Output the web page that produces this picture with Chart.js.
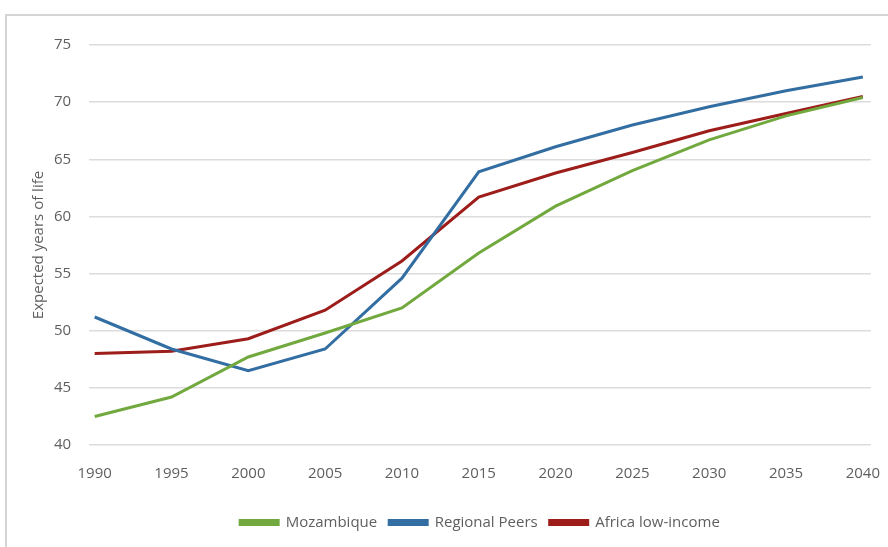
<!DOCTYPE html>
<html lang="en">
<head>
    <meta charset="UTF-8">
    <title>Expected years of life</title>
    <script src="https://cdn.jsdelivr.net/npm/chart.js"></script>
    <style>
        body {
            margin: 0;
            padding: 0;
            background: #fff;
            overflow: hidden;
        }
        .frame {
            position: absolute;
            left: 5px;
            top: 14px;
            width: 900px;
            height: 560px;
            border: 2px solid #d4d4d4;
        }
        .wrap {
            position: absolute;
            left: 0;
            top: 0;
            width: 900px;
            height: 547px;
        }
    </style>
</head>
<body>
    <div class="frame"></div>
    <div class="wrap"><canvas id="myChart"></canvas></div>

    <script>
        // years on the x axis
        var years = [1990, 1995, 2000, 2005, 2010, 2015, 2020, 2025, 2030, 2035, 2040];
        var yTicks = [40, 45, 50, 55, 60, 65, 70, 75];

        // life expectancy
        var mozambique = [42.5, 44.2, 47.7, 49.8, 52.0, 56.8, 60.9, 64.0, 66.7, 68.8, 70.4];
        var regionalPeers = [51.2, 48.4, 46.5, 48.4, 54.6, 63.9, 66.1, 68.0, 69.6, 71.0, 72.2];
        var africaLowIncome = [48.0, 48.2, 49.3, 51.8, 56.1, 61.7, 63.8, 65.6, 67.5, 69.0, 70.5];

        function toPoints(values) {
            return values.map(function (v, i) { return { x: years[i], y: v }; });
        }

        var fontFamily = "'Open Sans', sans-serif";
        var textColor = '#5f5f5f';

        var ctx = document.getElementById('myChart').getContext('2d');
        var myChart = new Chart(ctx, {
            type: 'line',
            data: {
                datasets: [
                    {
                        label: 'Mozambique',
                        data: toPoints(mozambique),
                        borderColor: '#72a93f',
                        backgroundColor: '#72a93f',
                        borderWidth: 3,
                        pointRadius: 0,
                        tension: 0
                    },
                    {
                        label: 'Regional Peers',
                        data: toPoints(regionalPeers),
                        borderColor: '#336ea3',
                        backgroundColor: '#336ea3',
                        borderWidth: 3,
                        pointRadius: 0,
                        tension: 0
                    },
                    {
                        label: 'Africa low-income',
                        data: toPoints(africaLowIncome),
                        borderColor: '#9c1d1a',
                        backgroundColor: '#9c1d1a',
                        borderWidth: 3,
                        pointRadius: 0,
                        tension: 0
                    }
                ]
            },
            options: {
                responsive: true,
                maintainAspectRatio: false,
                animation: false,
                layout: {
                    padding: { left: 30, right: 0, top: 45, bottom: 7 }
                },
                scales: {
                    x: {
                        type: 'linear',
                        min: 1989.64,
                        max: 2040.52,
                        afterBuildTicks: function (scale) {
                            scale.ticks = years.map(function (v) { return { value: v }; });
                        },
                        grid: { display: false, drawTicks: false },
                        border: { display: false },
                        ticks: {
                            color: textColor,
                            padding: 20,
                            maxRotation: 0,
                            autoSkip: false,
                            font: { family: fontFamily, size: 15 },
                            callback: function (v) { return String(v); }
                        }
                    },
                    y: {
                        min: 40,
                        max: 75,
                        afterBuildTicks: function (scale) {
                            scale.ticks = yTicks.map(function (v) { return { value: v }; });
                        },
                        grid: { color: '#dcdcdc', lineWidth: 1.5, drawTicks: false },
                        border: { display: false },
                        ticks: {
                            color: textColor,
                            padding: 18,
                            font: { family: fontFamily, size: 15 }
                        },
                        title: {
                            display: true,
                            text: 'Expected years of life',
                            color: textColor,
                            padding: { top: 0, bottom: -12 },
                            font: { family: fontFamily, size: 15 }
                        }
                    }
                },
                plugins: {
                    legend: {
                        display: true,
                        position: 'bottom',
                        fullSize: false,
                        labels: {
                            color: textColor,
                            boxWidth: 38,
                            boxHeight: 4,
                            padding: 12,
                            font: { family: fontFamily, size: 15 }
                        }
                    },
                    tooltip: { enabled: false }
                }
            }
        });
    </script>
</body>
</html>
